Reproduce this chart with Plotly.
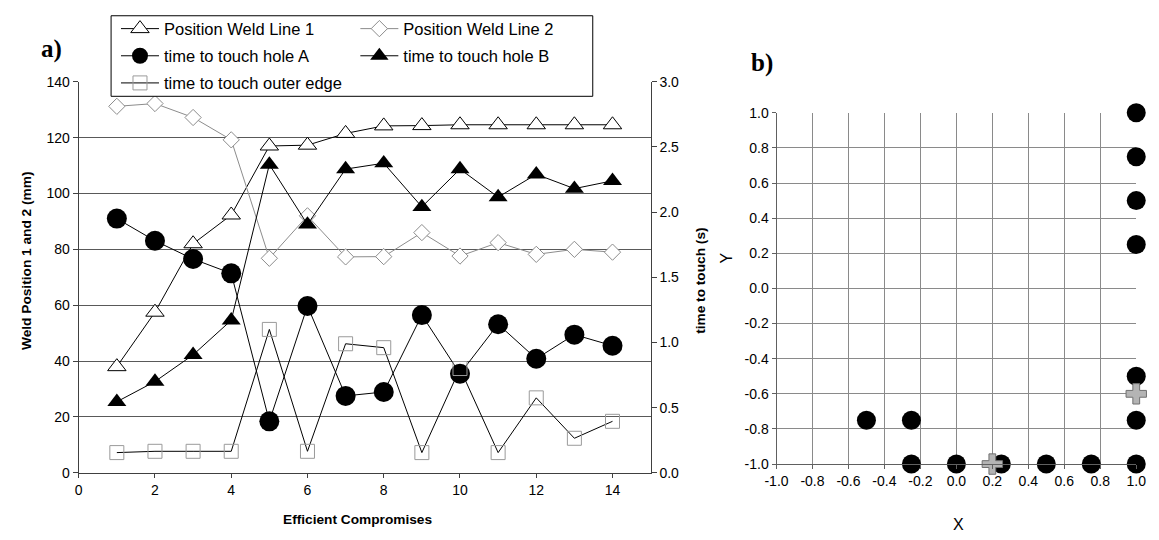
import plotly.graph_objects as go

# ---------------- data: panel a ----------------
compromise = list(range(1, 15))
weld_line_1 = [38, 57.5, 82, 92.3, 117, 117.3, 121.5, 124.2, 124.3, 124.6, 124.6, 124.6, 124.6, 124.6]
weld_line_2 = [131.2, 132.2, 127.2, 119.2, 76.8, 92.0, 77.3, 77.4, 86.0, 77.6, 82.4, 78.2, 80.0, 79.0]
hole_a = [1.95, 1.78, 1.64, 1.53, 0.395, 1.28, 0.59, 0.62, 1.21, 0.76, 1.14, 0.875, 1.06, 0.975]
hole_b = [0.545, 0.70, 0.905, 1.17, 2.365, 1.905, 2.33, 2.375, 2.04, 2.33, 2.115, 2.29, 2.18, 2.24]
outer_edge = [0.155, 0.165, 0.165, 0.165, 1.10, 0.165, 0.99, 0.96, 0.155, 0.80, 0.155, 0.575, 0.265, 0.395]

a_x_ticks = [0, 2, 4, 6, 8, 10, 12, 14]
a_y_ticks = [0, 20, 40, 60, 80, 100, 120, 140]
a_y2_ticks = [0.0, 0.5, 1.0, 1.5, 2.0, 2.5, 3.0]
a_y2_labels = ["0.0", "0.5", "1.0", "1.5", "2.0", "2.5", "3.0"]

# ---------------- data: panel b ----------------
design_x = [1, 1, 1, 1, 1, 1, 1, 0.75, 0.5, 0.25, 0, -0.25, -0.25, -0.5]
design_y = [1, 0.75, 0.5, 0.25, -0.5, -0.75, -1, -1, -1, -1, -1, -1, -0.75, -0.75]
cross_x = [0.2, 1.0]
cross_y = [-1.0, -0.6]

b_ticks = [-1.0, -0.8, -0.6, -0.4, -0.2, 0.0, 0.2, 0.4, 0.6, 0.8, 1.0]
b_labels = ["-1.0", "-0.8", "-0.6", "-0.4", "-0.2", "0.0", "0.2", "0.4", "0.6", "0.8", "1.0"]

W, H = 1159, 540
FONT = "Liberation Sans, Arial, sans-serif"
SERIF = "Liberation Serif, Times New Roman, serif"


def px(p):
    return p / W


def py(p):
    return 1 - p / H


fig = go.Figure()

# left-axis series
fig.add_trace(go.Scatter(
    x=compromise, y=weld_line_1, name="Position Weld Line 1", mode="lines+markers",
    line=dict(color="black", width=1),
    marker=dict(symbol="triangle-up", size=16, color="white", line=dict(color="black", width=1)),
    xaxis="x", yaxis="y", legend="legend", legendgroup="g1", cliponaxis=False))
fig.add_trace(go.Scatter(
    x=compromise, y=weld_line_2, name="Position Weld Line 2", mode="lines+markers",
    line=dict(color="#8c8c8c", width=1),
    marker=dict(symbol="diamond", size=12.5, color="white", line=dict(color="#8c8c8c", width=1)),
    xaxis="x", yaxis="y", legend="legend2", legendgroup="g4", cliponaxis=False))

# right-axis series
fig.add_trace(go.Scatter(
    x=compromise, y=hole_a, name="time to touch hole A", mode="lines+markers",
    line=dict(color="black", width=1),
    marker=dict(symbol="circle", size=20, color="black"),
    xaxis="x", yaxis="y2", legend="legend", legendgroup="g2", cliponaxis=False))
fig.add_trace(go.Scatter(
    x=compromise, y=hole_b, name="time to touch hole B", mode="lines+markers",
    line=dict(color="black", width=1),
    marker=dict(symbol="triangle-up", size=16.5, color="black"),
    xaxis="x", yaxis="y2", legend="legend2", legendgroup="g5", cliponaxis=False))
fig.add_trace(go.Scatter(
    x=compromise, y=outer_edge, name="time to touch outer edge", mode="lines+markers",
    line=dict(color="black", width=1),
    marker=dict(symbol="square-open", size=14, color="#9a9a9a", line=dict(width=1)),
    xaxis="x", yaxis="y2", legend="legend", legendgroup="g3", cliponaxis=False))

# panel b
fig.add_trace(go.Scatter(
    x=design_x, y=design_y, mode="markers", showlegend=False,
    marker=dict(symbol="circle", size=19, color="black"),
    xaxis="x2", yaxis="y3", cliponaxis=False))
fig.add_trace(go.Scatter(
    x=cross_x, y=cross_y, mode="markers", showlegend=False,
    marker=dict(symbol="cross", size=17, color="#b4b4b4", line=dict(color="#707070", width=1)),
    xaxis="x2", yaxis="y3", cliponaxis=False))

tickfont = dict(family=FONT, size=14, color="black")
legfont = dict(family=FONT, size=16.5, color="black")

fig.update_layout(
    width=W, height=H, autosize=False,
    margin=dict(l=0, r=0, t=0, b=0),
    paper_bgcolor="white", plot_bgcolor="white",
    font=dict(family=FONT, color="black"),
    xaxis=dict(domain=[px(68), px(651)], range=[0, 15], anchor="y",
               tickmode="array", tickvals=a_x_ticks, ticks="outside", ticklen=4,
               tickcolor="#404040", showline=True, linecolor="#404040", linewidth=1,
               showgrid=False, zeroline=False, tickfont=tickfont),
    yaxis=dict(domain=[py(479), py(76)], range=[0, 140], anchor="x",
               tickmode="array", tickvals=a_y_ticks, ticks="outside", ticklen=5,
               tickcolor="#404040", showline=True, linecolor="#404040", linewidth=1,
               showgrid=True, gridcolor="#595959", gridwidth=1, zeroline=False,
               tickfont=tickfont),
    yaxis2=dict(range=[0, 3], overlaying="y", side="right", anchor="x",
                tickmode="array", tickvals=a_y2_ticks, ticktext=a_y2_labels,
                ticks="outside", ticklen=5, tickcolor="#404040",
                showline=True, linecolor="#404040", linewidth=1,
                showgrid=False, zeroline=False, tickfont=tickfont),
    xaxis2=dict(domain=[px(779.3), px(1146)], range=[-1, 1], anchor="y3",
                tickmode="array", tickvals=b_ticks, ticktext=b_labels,
                ticks="outside", ticklen=4, tickcolor="#606060",
                showline=True, linecolor="#606060", linewidth=1,
                showgrid=True, gridcolor="#8a8a8a", gridwidth=1, zeroline=False,
                tickfont=tickfont),
    yaxis3=dict(domain=[py(470), py(108)], range=[-1, 1], anchor="x2",
                tickmode="array", tickvals=b_ticks, ticktext=b_labels,
                ticks="outside", ticklen=4, tickcolor="#606060",
                showline=True, linecolor="#606060", linewidth=1,
                showgrid=True, gridcolor="#8a8a8a", gridwidth=1, zeroline=False,
                tickfont=tickfont),
    legend=dict(x=px(106), y=py(3.5), xanchor="left", yanchor="top",
                orientation="v", bgcolor="rgba(0,0,0,0)", borderwidth=0,
                font=legfont, itemwidth=38, itemsizing="trace",
                traceorder="grouped", tracegroupgap=2.7),
    legend2=dict(x=px(350), y=py(3.5), xanchor="left", yanchor="top",
                 orientation="v", bgcolor="rgba(0,0,0,0)", borderwidth=0,
                 font=legfont, itemwidth=38, itemsizing="trace",
                 traceorder="grouped", tracegroupgap=2.7),
    shapes=[dict(type="rect", xref="paper", yref="paper",
                 x0=px(101), x1=px(592), y0=py(91), y1=py(8),
                 line=dict(color="black", width=1), fillcolor="white", layer="above")],
)

title_font = dict(family=FONT, size=13.7, color="black")
annotations = [
    dict(text="<b>a)</b>", x=px(40), y=py(42), font=dict(family=SERIF, size=25, color="black")),
    dict(text="<b>b)</b>", x=px(765), y=py(57), font=dict(family=SERIF, size=25, color="black")),
    dict(text="<b>Efficient Compromises</b>", x=px(352), y=py(527), font=title_font),
    dict(text="<b>Weld Position 1 and 2 (mm)</b>", x=px(15), y=py(261), textangle=-90, font=title_font),
    dict(text="<b>time to touch (s)</b>", x=px(701), y=py(281.5), textangle=-90, font=title_font),
    dict(text="Y", x=px(728), y=py(258), textangle=-90, font=dict(family=FONT, size=16, color="black")),
    dict(text="X", x=px(965), y=py(532), font=dict(family=FONT, size=16, color="black")),
]
for a in annotations:
    a.update(xref="paper", yref="paper", xanchor="center", yanchor="middle", showarrow=False)
fig.update_layout(annotations=annotations)

fig.write_html(
    "out.html",
    config={"displayModeBar": False},
    post_script="document.body.style.margin='0';document.body.style.overflow='hidden';",
)
